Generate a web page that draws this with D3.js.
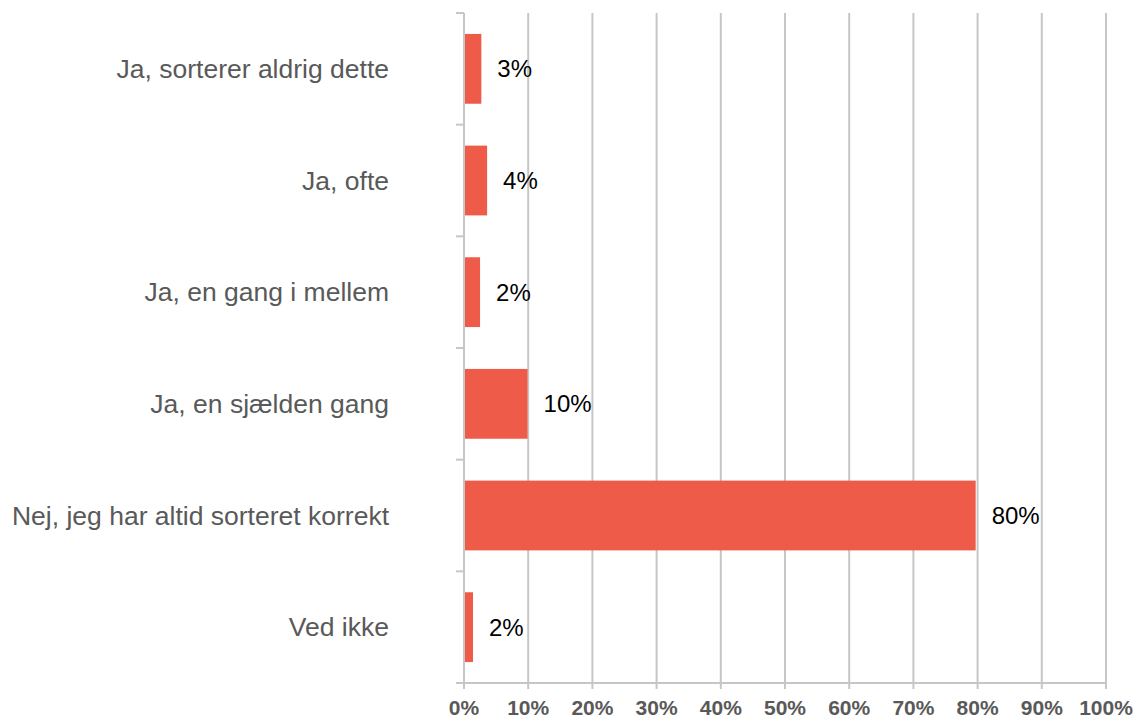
<!DOCTYPE html>
<html>
<head>
<meta charset="utf-8">
<script src="https://cdn.jsdelivr.net/npm/d3@7"></script>
<style>
  body { margin: 0; background: #fff; }
  svg text { font-family: "Liberation Sans", Arial, sans-serif; }
</style>
</head>
<body>
<script>
// categories top to bottom
var categories = ["Ja, sorterer aldrig dette", "Ja, ofte", "Ja, en gang i mellem",
  "Ja, en sjælden gang", "Nej, jeg har altid sorteret korrekt", "Ved ikke"];
var values = [2.7, 3.6, 2.5, 9.9, 79.7, 1.4];
var valueLabels = ["3%", "4%", "2%", "10%", "80%", "2%"];
var ticks = [0, 10, 20, 30, 40, 50, 60, 70, 80, 90, 100];

var W = 1136, H = 718;
var margin = {top: 13, right: 30, bottom: 35, left: 464};
var width = 1106 - margin.left, height = 683 - margin.top;

var svg = d3.select("body").append("svg")
    .attr("width", W)
    .attr("height", H);

var g = svg.append("g").attr("transform", "translate(" + margin.left + "," + margin.top + ")");

var x = d3.scaleLinear().domain([0, 100]).range([0, width]);
var y = d3.scaleBand().domain(categories).range([0, height]).paddingInner(0.375).paddingOuter(0.1875);

var gridColor = "#c6c6c6";

// vertical gridlines
g.selectAll(".grid")
  .data(ticks)
  .enter().append("line")
  .attr("x1", d => x(d)).attr("x2", d => x(d))
  .attr("y1", 0).attr("y2", height + 6)
  .attr("stroke", gridColor)
  .attr("stroke-width", 2);

// bottom axis line
g.append("line")
  .attr("x1", 0).attr("x2", width)
  .attr("y1", height).attr("y2", height)
  .attr("stroke", gridColor).attr("stroke-width", 2);

// left ticks between categories
var bandStep = height / categories.length;
g.selectAll(".ltick")
  .data(d3.range(categories.length + 1))
  .enter().append("line")
  .attr("x1", -8).attr("x2", 0)
  .attr("y1", d => d * bandStep).attr("y2", d => d * bandStep)
  .attr("stroke", gridColor).attr("stroke-width", 2);

// tick labels
g.selectAll(".xlab")
  .data(ticks)
  .enter().append("text")
  .attr("x", d => x(d))
  .attr("y", height + 32)
  .attr("text-anchor", "middle")
  .attr("font-size", "21px")
  .attr("font-weight", "bold")
  .attr("fill", "#595959")
  .text(d => d + "%");

// bars
g.selectAll(".bar")
  .data(values)
  .enter().append("rect")
  .attr("x", 1)
  .attr("y", (d, i) => y(categories[i]))
  .attr("width", d => x(d) - 1)
  .attr("height", y.bandwidth())
  .attr("fill", "#ee5b49");

// value labels
g.selectAll(".vlab")
  .data(values)
  .enter().append("text")
  .attr("x", d => x(d) + 16)
  .attr("y", (d, i) => y(categories[i]) + y.bandwidth() / 2)
  .attr("dy", "0.35em")
  .attr("font-size", "24px")
  .attr("fill", "#000")
  .text((d, i) => valueLabels[i]);

// category labels
g.selectAll(".clab")
  .data(categories)
  .enter().append("text")
  .attr("x", -75)
  .attr("y", d => y(d) + y.bandwidth() / 2)
  .attr("dy", "0.35em")
  .attr("text-anchor", "end")
  .attr("font-size", "26.5px")
  .attr("fill", "#595959")
  .text(d => d);
</script>
</body>
</html>
